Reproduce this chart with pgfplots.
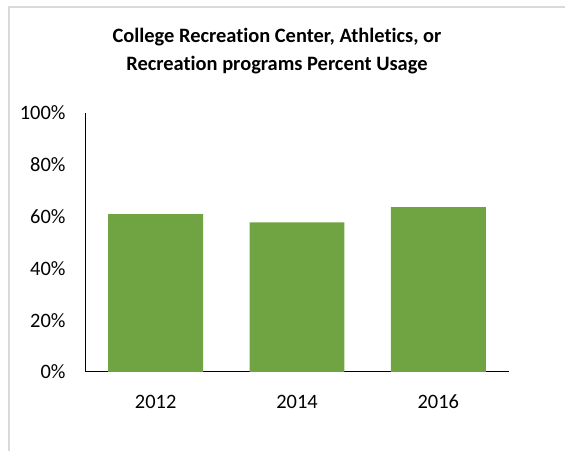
\documentclass[border=0pt]{standalone}
\usepackage{pgfplots}
\pgfplotsset{compat=1.18}
\usepackage{fontspec}
\setmainfont{Carlito}[Ligatures={NoCommon}]
\definecolor{bargreen}{HTML}{70A342}
\definecolor{frame}{HTML}{D9D9D9}
\begin{document}
\begin{tikzpicture}[x=1bp,y=1bp]
\useasboundingbox (0,0) rectangle (565,451);
\draw[frame, line width=1.5bp] (9,0) -- (9,444) -- (565,444);
\node[font=\fontsize{20.5}{24}\selectfont\bfseries, align=center] at (277,414) {College Recreation Center, Athletics, or};
\node[font=\fontsize{20.5}{24}\selectfont\bfseries, align=center] at (277,386) {Recreation programs Percent Usage};
\begin{axis}[
  at={(85bp,79bp)}, anchor=south west,
  scale only axis, width=424bp, height=259bp,
  xmin=-0.5, xmax=2.5, ymin=0, ymax=100,
  axis x line=bottom, axis y line=left,
  axis line style={-, black, line width=1bp},
  xtick={0,1,2}, xticklabels={2012,2014,2016},
  ytick={0,20,40,60,80,100},
  yticklabels={0\%,20\%,40\%,60\%,80\%,100\%},
  major tick length=0pt,
  /pgf/number format/assume math mode=true,
  tick label style={font=\fontsize{20.5}{24}\selectfont},
  y tick label style={xshift=-16bp},
  x tick label style={text height=13bp, text depth=0bp, yshift=-20bp},
  clip=false,
]
\addplot[ybar, bar width=0.672, fill=bargreen, draw=none] coordinates {(0,61.0) (1,57.8) (2,63.7)};
\end{axis}
\end{tikzpicture}
\end{document}
